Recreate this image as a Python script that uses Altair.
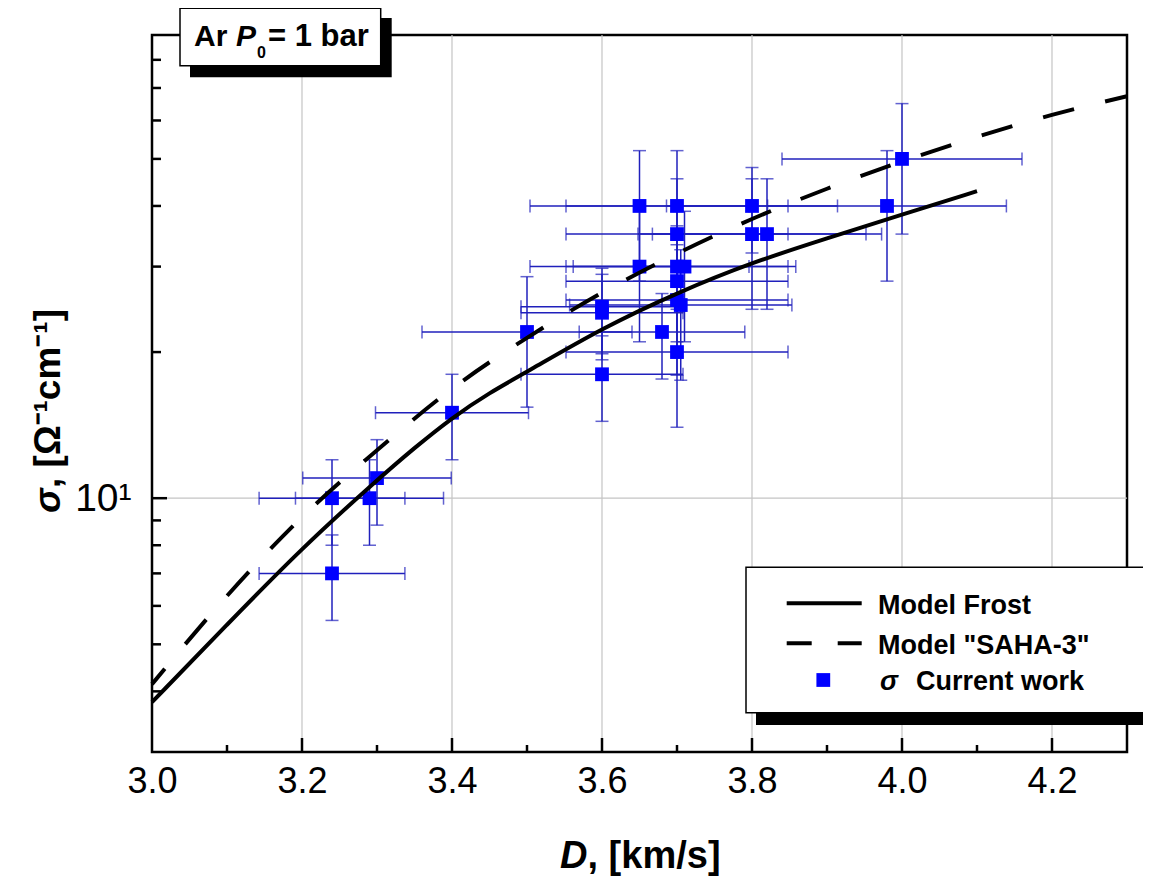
import altair as alt
import pandas as pd

# ---------------- data ----------------
D_pts = [3.24, 3.24, 3.29, 3.30, 3.40, 3.50, 3.60, 3.60, 3.60, 3.65, 3.65, 3.68,
         3.70, 3.70, 3.70, 3.71, 3.70, 3.70, 3.705, 3.70, 3.80, 3.80, 3.82, 3.98, 4.00]
sig_pts = [7.0, 10.0, 10.0, 11.0, 15.0, 22.0, 24.8, 24.1, 18.0, 40.0, 30.0, 22.0,
           40.0, 35.0, 30.0, 30.0, 28.0, 25.6, 25.0, 20.0, 40.0, 35.0, 35.0, 40.0, 50.0]
dx_pct = [3, 3, 3, 3, 3, 4, 3, 3, 3, 4, 4, 3,
          4, 4, 4, 4, 4, 4, 4, 4, 3, 4, 4, 4, 4]
dy_pct = [20, 20, 20, 20, 20, 30, 20, 20, 20, 30, 30, 20,
          30, 30, 30, 30, 30, 30, 30, 30, 20, 30, 30, 30, 30]

frost_D = [3.0, 3.1, 3.2, 3.3, 3.35, 3.4, 3.45, 3.5, 3.6, 3.7, 3.8, 3.9, 4.0, 4.1]
frost_s = [3.80, 5.49, 7.90, 10.9, 12.7, 14.65, 16.5, 18.2, 22.4, 26.5, 30.6, 34.3, 38.4, 42.9]
saha_D = [3.0, 3.1, 3.2, 3.3, 3.4, 3.5, 3.6, 3.7, 3.8, 3.9, 4.0, 4.1, 4.2, 4.3]
saha_s = [4.14, 6.29, 9.14, 12.55, 16.8, 21.4, 26.5, 31.9, 37.6, 43.4, 49.4, 55.5, 61.6, 67.3]

x_labels = [3.0, 3.2, 3.4, 3.6, 3.8, 4.0, 4.2]
x_grid = [3.2, 3.4, 3.6, 3.8, 4.0, 4.2]
x_minor = [3.1, 3.3, 3.5, 3.7, 3.9, 4.1]
y_major = [10]
y_minor = [4, 5, 6, 7, 8, 9, 20, 30, 40, 50, 60, 70, 80]

# ---------------- layout ----------------
W, H = 975, 717
BLUE = "#0000ff"
EB = "#2020bc"
SANS = "Liberation Sans, Arial"

xs = alt.Scale(domain=[3.0, 4.3], nice=False, zero=False)
ys = alt.Scale(type="log", domain=[3, 90], nice=False)
xax = alt.Axis(values=x_labels, format=".1f", title=None, grid=False, ticks=False,
               tickSize=0, domain=False, labelFont=SANS, labelFontSize=36,
               labelColor="black", labelPadding=12, labelFlush=False, labelOverlap=False)
yax = alt.Axis(values=[10], labelExpr="datum.value == 10 ? '10\u00b9' : ''", title=None,
               grid=False, ticks=False, tickSize=0, domain=False, labelFont=SANS,
               labelFontSize=39, labelColor="black", labelPadding=21, labelOverlap=False)

def X(f):
    return alt.X(f, type="quantitative", scale=xs, axis=xax)

def Y(f):
    return alt.Y(f, type="quantitative", scale=ys, axis=yax)

pts = pd.DataFrame({"D": D_pts, "s": sig_pts, "dx": dx_pct, "dy": dy_pct})
pts["xlo"] = pts["D"] * (1 - pts["dx"] / 100)
pts["xhi"] = pts["D"] * (1 + pts["dx"] / 100)
pts["ylo"] = pts["s"] * (1 - pts["dy"] / 100)
pts["yhi"] = pts["s"] * (1 + pts["dy"] / 100)

caps_v = pd.concat([pd.DataFrame({"D": pts["D"], "yc": pts["ylo"]}),
                    pd.DataFrame({"D": pts["D"], "yc": pts["yhi"]})])
caps_h = pd.concat([pd.DataFrame({"xc": pts["xlo"], "s": pts["s"]}),
                    pd.DataFrame({"xc": pts["xhi"], "s": pts["s"]})])

one = pd.DataFrame({"a": [0]})

gridx = alt.Chart(pd.DataFrame({"x": x_grid})).mark_rule(color="#c4c4c4", strokeWidth=1.2).encode(
    x=X("x"), y=alt.value(0), y2=alt.value(H))
gridy = alt.Chart(pd.DataFrame({"y": y_major})).mark_rule(color="#c4c4c4", strokeWidth=1.2).encode(
    y=Y("y"), x=alt.value(0), x2=alt.value(W))

vbar = alt.Chart(pts).mark_rule(color=EB, strokeWidth=1.5).encode(x=X("D"), y=Y("ylo"), y2="yhi")
hbar = alt.Chart(pts).mark_rule(color=EB, strokeWidth=1.5).encode(x=X("xlo"), x2="xhi", y=Y("s"))
capv = alt.Chart(caps_v).mark_tick(color=EB, orient="horizontal", size=13, thickness=1.5).encode(
    x=X("D"), y=Y("yc"))
caph = alt.Chart(caps_h).mark_tick(color=EB, orient="vertical", size=13, thickness=1.5).encode(
    x=X("xc"), y=Y("s"))
squares = alt.Chart(pts).mark_square(size=190, color=BLUE, opacity=1, filled=True).encode(
    x=X("D"), y=Y("s"))

frost = alt.Chart(pd.DataFrame({"D": frost_D, "s": frost_s})).mark_line(
    color="black", strokeWidth=4, interpolate="basis").encode(x=X("D"), y=Y("s"))
saha = alt.Chart(pd.DataFrame({"D": saha_D, "s": saha_s})).mark_line(
    color="black", strokeWidth=4, interpolate="monotone", strokeDash=[32, 32],
    strokeDashOffset=12).encode(x=X("D"), y=Y("s"))

tk = dict(color="black", strokeWidth=2.5)
xt1 = alt.Chart(pd.DataFrame({"x": x_grid})).mark_rule(**tk).encode(
    x=X("x"), y=alt.value(H), y2=alt.value(H - 14))
xt2 = alt.Chart(pd.DataFrame({"x": x_minor})).mark_rule(**tk).encode(
    x=X("x"), y=alt.value(H), y2=alt.value(H - 7))
yt1 = alt.Chart(pd.DataFrame({"y": y_major})).mark_rule(**tk).encode(
    y=Y("y"), x=alt.value(0), x2=alt.value(15))
yt2 = alt.Chart(pd.DataFrame({"y": y_minor})).mark_rule(**tk).encode(
    y=Y("y"), x=alt.value(0), x2=alt.value(9))


def rect(x1, y1, x2, y2, fill, stroke=None, sw=0):
    kw = dict(fill=fill)
    if stroke:
        kw.update(stroke=stroke, strokeWidth=sw)
    return alt.Chart(one).mark_rect(**kw).encode(
        x=alt.value(x1), x2=alt.value(x2), y=alt.value(y1), y2=alt.value(y2))


def txt(s, x, y, size, style="normal", weight="bold", angle=0, font=SANS):
    kw = dict(text=s, font=font, fontSize=size, fontWeight=weight, fontStyle=style,
              align="left", baseline="alphabetic", color="black")
    if angle:
        kw["angle"] = angle
    return alt.Chart(one).mark_text(**kw).encode(x=alt.value(x), y=alt.value(y))


# title box (top-left)
tshadow = rect(38, -17, 239.7, 42.3, "black")
tbox = rect(28, -26.7, 228.7, 30.7, "white", "black", 1.5)
t1 = txt("Ar", 42, 10.7, 30)
t2 = txt("P", 84, 10.7, 30, style="italic")
t3 = txt("0", 105, 23, 16)
t4 = txt("= 1 bar", 116, 10.7, 31)

# legend box
lshadow = rect(604, 542, 1010, 690, "black")
lbox = rect(594, 532.3, 1010, 677.7, "white", "black", 1.5)
l_solid = alt.Chart(one).mark_rule(color="black", strokeWidth=4).encode(
    x=alt.value(634.7), x2=alt.value(709.7), y=alt.value(568.3))
l_dash = alt.Chart(one).mark_rule(color="black", strokeWidth=4, strokeDash=[25, 26]).encode(
    x=alt.value(634.7), x2=alt.value(709.7), y=alt.value(608.3))
l_sq = alt.Chart(one).mark_square(size=190, color=BLUE, opacity=1, filled=True).encode(
    x=alt.value(671.3), y=alt.value(645))
l1 = txt("Model Frost", 726, 579, 27)
l2 = txt('Model "SAHA-3"', 726, 619, 27)
l3 = txt("\u03c3", 728, 655, 27, style="italic")
l4 = txt("Current work", 764, 655, 27)

# axis titles
xt_a = txt("D", 408, 833, 38, style="italic")
xt_b = txt(", [km/s]", 435.5, 833, 38)
yt_a = txt("\u03c3", -92, 478, 37, style="italic", angle=270)
yt_b = txt(", [\u03a9\u207b\u00b9cm\u207b\u00b9]", -92, 453, 37, angle=270)

chart = alt.layer(
    gridx, gridy, vbar, hbar, capv, caph, squares, frost, saha,
    xt1, xt2, yt1, yt2,
    tshadow, tbox, t1, t2, t3, t4,
    lshadow, lbox, l_solid, l_dash, l_sq, l1, l2, l3, l4,
    xt_a, xt_b, yt_a, yt_b,
).properties(
    width=W, height=H,
    autosize=alt.AutoSizeParams(type="none"),
    padding={"left": 144, "top": 27, "right": 16, "bottom": 126},
).configure_view(stroke="black", strokeWidth=2.5)

chart.save("out.html", embed_options={"renderer": "svg", "actions": False})
